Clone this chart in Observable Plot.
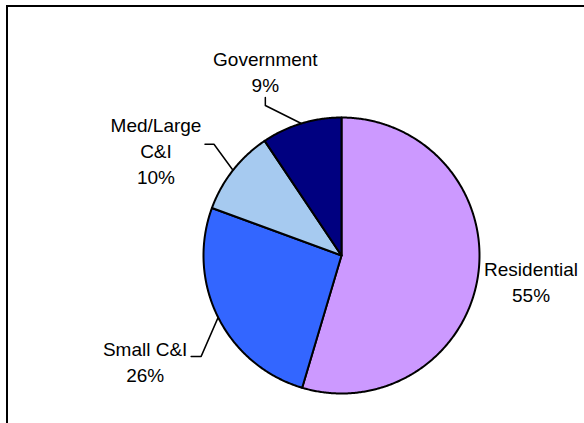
<!DOCTYPE html>
<html>
<head>
<meta charset="utf-8">
<script src="https://cdn.jsdelivr.net/npm/d3@7"></script>
<script src="https://cdn.jsdelivr.net/npm/@observablehq/plot@0.6"></script>
<style>
  html, body { margin: 0; padding: 0; background: #fff; overflow: hidden; }
  #chart svg { display: block; }
</style>
</head>
<body>
<div id="chart"></div>
<script>
// ---- data ----
const categories = ["Residential", "Small C&I", "Med/Large C&I", "Government"];
const shares = [54.6, 26.0, 10.0, 9.4];
const labelNames = ["Residential", "Small C&I", "Med/Large\nC&I", "Government"];
const pctLabels = ["55%", "26%", "10%", "9%"];
const colors = ["#CC99FF", "#3366FF", "#A6CAF0", "#000080"];

// ---- layout (pixels) ----
const W = 584, H = 423;
const cx = 341, cy = 255, R = 138;
// label anchor offsets from the rim point at each slice's mid-angle
const labelOffsets = [[53, -18], [-73, 20], [-77, -57], [-36, -76]];
// leader line elbow / end offsets from the rim point (null = no leader)
const leaderElbows = [null, [-17, 39], [-19, -26], [-36, -18]];
const leaderEnds = [null, [-27, 39], [-28, -26], [-36, -26]];

const total = d3.sum(shares);
const toData = ([px, py]) => [(px - cx) / R, (cy - py) / R];

// slice polygons in unit-circle data coordinates (clockwise from 12 o'clock)
const slices = [];
let acc = 0;
const mids = [];
shares.forEach((v, i) => {
  const a0 = (acc / total) * 2 * Math.PI;
  acc += v;
  const a1 = (acc / total) * 2 * Math.PI;
  mids.push((a0 + a1) / 2);
  const n = Math.max(8, Math.ceil((a1 - a0) / (Math.PI / 360)));
  slices.push({cat: categories[i], x: 0, y: 0});
  for (let k = 0; k <= n; k++) {
    const a = a0 + (a1 - a0) * k / n;
    slices.push({cat: categories[i], x: Math.sin(a), y: Math.cos(a)});
  }
  slices.push({cat: categories[i], x: 0, y: 0});
});

const rimPx = mids.map(a => [cx + R * Math.sin(a), cy - R * Math.cos(a)]);

const labels = categories.map((c, i) => {
  const [x, y] = toData([rimPx[i][0] + labelOffsets[i][0], rimPx[i][1] + labelOffsets[i][1]]);
  return {cat: c, x, y, text: labelNames[i] + "\n" + pctLabels[i]};
});

const leaders = [];
categories.forEach((c, i) => {
  if (!leaderElbows[i]) return;
  const pts = [
    rimPx[i],
    [rimPx[i][0] + leaderElbows[i][0], rimPx[i][1] + leaderElbows[i][1]],
    [rimPx[i][0] + leaderEnds[i][0], rimPx[i][1] + leaderEnds[i][1]]
  ];
  pts.forEach(p => { const [x, y] = toData(p); leaders.push({cat: c, x, y}); });
});

const chart = Plot.plot({
  width: W,
  height: H,
  margin: 0,
  style: {background: "#fff", fontFamily: "'Liberation Sans', Arial, sans-serif"},
  x: {domain: [(0 - cx) / R, (W - cx) / R], range: [0, W], axis: null},
  y: {domain: [-(H - cy) / R, cy / R], range: [H, 0], axis: null},
  color: {domain: categories, range: colors},
  marks: [
    Plot.frame({stroke: "black", strokeWidth: 2, insetLeft: 6.5, insetTop: 5.5, insetRight: -20, insetBottom: -20}),
    Plot.line(slices, {x: "x", y: "y", z: "cat", fill: "cat", stroke: "black", strokeWidth: 2, strokeLinejoin: "round", curve: "linear"}),
    Plot.line(leaders, {x: "x", y: "y", z: "cat", stroke: "black", strokeWidth: 1.5}),
    Plot.text(labels, {x: "x", y: "y", text: "text", fontSize: 19, lineHeight: 1.37, lineAnchor: "top", textAnchor: "middle", fill: "black"})
  ]
});
document.getElementById("chart").appendChild(chart);
</script>
</body>
</html>
